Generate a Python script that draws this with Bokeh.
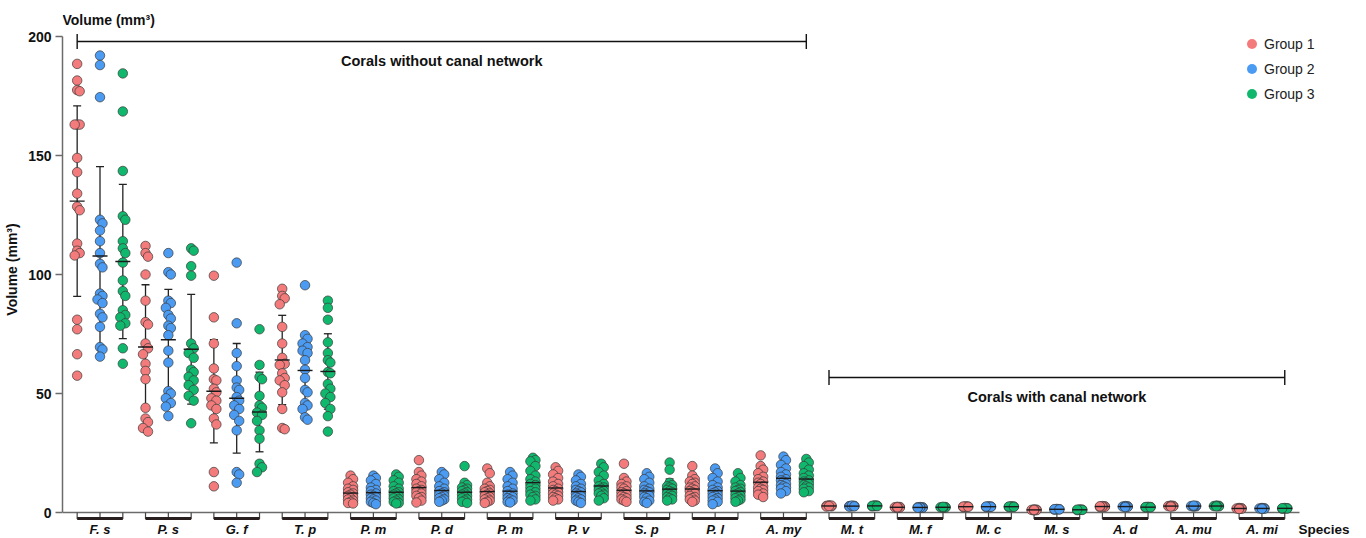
import numpy as np
from bokeh.plotting import figure
from bokeh.models import Range1d, FixedTicker, Legend, LegendItem
from bokeh.embed import file_html
from bokeh.resources import INLINE
from bokeh.core.properties import value

# ---------------- data ----------------
species = ["F. s", "P. s", "G. f", "T. p", "P. m", "P. d", "P. m", "P. v", "S. p",
           "P. l", "A. my", "M. t", "M. f", "M. c", "M. s", "A. d", "A. mu", "A. mi"]
groups = ["Group 1", "Group 2", "Group 3"]
colors = ["#F47B7B", "#4B9BF2", "#10B86D"]
y_ticks = [0, 50, 100, 150, 200]
region_names = ["Corals without canal network", "Corals with canal network"]
region_first = [0, 11]
region_last = [10, 17]

fs = [[188.5, 181.5, 177.5, 177, 163, 163, 163, 149, 143, 134, 128.5, 127, 113, 110, 109, 108, 81, 77, 66.5, 57.5],
      [192, 188, 174.5, 123, 121.5, 118.5, 114, 109, 104.5, 103, 92, 91, 89.5, 88, 83.5, 82, 78, 69.5, 68.5, 65.5],
      [184.5, 168.5, 143.5, 124.5, 123, 114, 111, 109, 105, 97.5, 93, 91, 85, 83, 82, 79.5, 78.5, 69, 62.5]]
ps = [[112, 109, 107.5, 100, 89, 80, 79, 71, 69, 66.5, 62.5, 59.5, 56, 44, 39.5, 38, 35.5, 34],
      [109, 101, 100, 89, 88, 86, 83, 81.5, 78.5, 77.5, 74.5, 68, 63, 51, 50, 48, 46, 44.5, 40.5],
      [111, 110, 103.5, 99.5, 71, 69, 67, 65, 60, 59, 57, 55.5, 53.5, 51.5, 49, 47, 37.5]]
gf = [[99.5, 82, 71, 60.5, 56, 55.5, 52, 50.5, 48, 47, 45, 43.5, 39.5, 37, 17, 11],
      [105, 79.5, 67, 61.5, 55.5, 52.5, 51.5, 48.5, 47, 45, 43.5, 41, 38.5, 34.5, 17, 16, 12.5],
      [77, 62, 57, 56, 49, 45, 44, 42, 41, 38.5, 34.5, 31, 20.5, 19, 17]]
tp = [[94, 91, 90, 87.5, 78, 71, 65, 62.5, 62, 58.5, 56.5, 55.5, 53.5, 50.5, 43.5, 35.5, 35],
      [95.5, 74.5, 73, 71, 69.5, 68, 67, 64, 60, 56.5, 51.5, 50.5, 46, 45, 43.5, 40, 39],
      [89, 86, 81, 71.5, 67, 64, 63, 59, 58.5, 54, 52, 50, 48.5, 46, 43.5, 40.5, 34]]
pm1 = [[15.5, 14, 12.5, 11, 10, 9.5, 8.5, 8, 7.5, 7, 6.5, 6, 5.5, 5, 4.5, 4, 3.8],
       [15.5, 14.5, 13.5, 12, 10.5, 9.5, 9, 8, 7.5, 7, 6.5, 6, 5.5, 5, 4.5, 4, 3.5],
       [16, 15, 13.5, 12.5, 11, 10, 9, 8.5, 8, 7.5, 7, 6.5, 6, 5.5, 5, 4.5, 4, 3.8]]
pd_ = [[22, 17, 15.5, 14, 13, 12, 11, 10, 9.5, 9, 8.5, 8, 7, 6.5, 6, 5, 4.2],
       [17, 16, 14, 12.5, 11, 10, 9, 8.5, 8, 7.5, 7, 6.5, 6, 5.5, 5, 4.5],
       [19.5, 12.5, 11.5, 10.5, 10, 9.5, 9, 8.5, 8, 7.5, 7, 6.5, 6, 5.5, 5, 4.5, 4]]
pm2 = [[18.5, 16.5, 12.5, 11, 10, 9.5, 9, 8.5, 8, 7.5, 7, 6.5, 6, 5.5, 5, 4.5, 4],
       [17, 15.5, 14, 12.5, 11, 10, 9, 8, 7.5, 7, 6.5, 6, 5.5, 5, 4.5, 4.2],
       [23, 22, 21.5, 19.5, 17.5, 15.5, 14, 13, 12, 11.5, 10.5, 10, 9, 8.5, 7.5, 7, 6.5, 5.5, 5]]
pv = [[19, 17.5, 16, 14.5, 13, 12, 11, 10, 9.5, 9, 8.5, 8, 7.5, 7, 6.5, 6, 5.5, 5],
      [16, 15, 13.5, 12, 11, 10, 9.5, 9, 8.5, 8, 7.5, 7, 6.5, 6, 5.5, 5, 4.5, 4],
      [20.5, 19, 17, 15.5, 13.5, 12, 11, 10.5, 10, 9.5, 9, 8.5, 8, 7.5, 7, 6, 5]]
sp = [[20.5, 14.5, 13, 12, 11, 10.5, 10, 9, 8.5, 8, 7.5, 7, 6.5, 6, 5.5, 5, 4.5],
      [16.5, 15, 14, 12.5, 11, 10, 9.5, 9, 8.5, 8, 7.5, 7, 6.5, 6, 5, 4.5, 4],
      [21, 18, 12.5, 11.5, 11, 10.5, 10, 9.5, 9, 8.5, 8, 7.5, 7, 6.5, 6, 5.5, 5]]
pl = [[19.5, 15.5, 14, 13, 12.5, 12, 11, 10.5, 10, 9.5, 9, 8.5, 8, 7, 6.5, 6, 5.5, 5, 4.5],
      [18.5, 16.5, 14.5, 13, 11.5, 10.5, 9.5, 9, 8.5, 8, 7.5, 7, 6.5, 6, 5.5, 5, 4.5, 3.5],
      [16.5, 14.5, 13, 11.5, 10.5, 10, 9.5, 9, 8.5, 8, 7.5, 7, 6.5, 6, 5.5, 5, 4.5]]
amy = [[24, 19.5, 18, 16.5, 15, 14, 13, 12.5, 12, 11, 10.5, 10, 9.5, 9, 8, 7.5, 6.5],
       [23.5, 22, 20, 18.5, 17, 16, 15, 14, 13.5, 13, 12, 11.5, 11, 10.5, 10, 9, 8],
       [22.5, 21, 19.5, 18, 16.5, 15.5, 14.5, 13.5, 13, 12.5, 12, 11.5, 11, 10.5, 10, 9, 8.5]]
mt = [[3.0, 2.8, 2.6, 2.9, 2.5, 2.7], [2.8, 2.6, 2.7, 2.5, 2.9, 2.6], [2.9, 2.7, 3.0, 2.6, 2.8, 2.7]]
mf = [[2.3, 2.1, 2.2, 2.0, 2.4, 2.2], [2.2, 2.0, 2.3, 2.1, 2.2, 2.0], [2.2, 2.3, 2.1, 2.0, 2.2, 2.4]]
mc = [[2.5, 2.4, 2.6, 2.3, 2.5, 2.4], [2.4, 2.5, 2.3, 2.6, 2.4, 2.5], [2.5, 2.6, 2.4, 2.3, 2.5, 2.4]]
ms = [[1.2, 1.0, 1.1, 1.3, 0.9, 1.1], [1.4, 1.3, 1.5, 1.2, 1.4, 1.3], [1.1, 1.2, 1.0, 1.3, 1.1, 1.2]]
ad = [[2.6, 2.4, 2.7, 2.5, 2.3, 2.6], [2.5, 2.6, 2.4, 2.7, 2.5, 2.3], [2.3, 2.2, 2.4, 2.1, 2.3, 2.2]]
amu = [[2.7, 2.8, 2.6, 2.9, 2.7, 2.5], [2.7, 2.6, 2.8, 2.5, 2.7, 2.9], [2.7, 2.8, 2.6, 2.9, 2.7, 2.6]]
ami = [[1.8, 1.7, 1.6, 1.9, 1.7, 1.5], [1.7, 1.8, 1.6, 1.9, 1.7, 1.6], [1.8, 1.7, 1.6, 1.9, 1.7, 1.8]]

volumes = [fs, ps, gf, tp, pm1, pd_, pm2, pv, sp, pl, amy, mt, mf, mc, ms, ad, amu, ami]

# ---------------- layout ----------------
W, H = 1366, 538
LEFT = 62
X0, X1 = -0.5486, 18.53
Y0, Y1 = -10.92, 215.13
PX_X = (W - LEFT) / (X1 - X0)
PX_Y = H / (Y1 - Y0)
GOFF = [-0.334, 0.0, 0.334]
FONT = value("Liberation Sans")
INK = "#111111"
AXIS_GREY = "#6b6b6b"


def swarm(vals):
    vals = np.asarray(vals, float)
    ys = vals * PX_Y
    offs = np.zeros(len(vals))
    placed = []
    for k in np.argsort(-vals, kind="stable"):
        best, bestd = 0.0, -1.0
        for c in (0.0, 2.5, -2.5):
            d = min((np.hypot(c - px, ys[k] - py) for px, py in placed), default=1e9)
            if d >= 7.0:
                best = c
                break
            if d > bestd:
                best, bestd = c, d
        offs[k] = best
        placed.append((best, ys[k]))
    return offs / PX_X


p = figure(width=W, height=H, x_range=Range1d(X0, X1), y_range=Range1d(Y0, Y1),
           output_backend="svg", toolbar_location=None, x_axis_location=None,
           min_border_left=LEFT, min_border_right=0, min_border_top=0, min_border_bottom=0)
p.outline_line_color = None
p.grid.visible = False

ax = p.yaxis[0]
ax.bounds = (0, 200)
ax.ticker = FixedTicker(ticks=y_ticks)
ax.minor_tick_line_color = None
ax.major_tick_in = 0
ax.major_tick_out = 7
ax.major_tick_line_color = AXIS_GREY
ax.major_tick_line_width = 1.5
ax.axis_line_color = AXIS_GREY
ax.axis_line_width = 1.5
ax.major_label_text_font = "Liberation Sans"
ax.major_label_text_font_size = "14px"
ax.major_label_text_font_style = "bold"
ax.major_label_text_color = INK
ax.major_label_standoff = 4
ax.axis_label = "Volume (mm³)"
ax.axis_label_text_font = "Liberation Sans"
ax.axis_label_text_font_size = "14px"
ax.axis_label_text_font_style = "bold"
ax.axis_label_text_color = INK
ax.axis_label_standoff = 5

n = len(species)

# x axis line at zero
p.segment(x0=[X0], y0=[0], x1=[n - 1 + 0.55], y1=[0], line_color=AXIS_GREY, line_width=1.5)

# brackets under each species
tick_depth = 6.5 / PX_Y
bar_y = -6 / PX_Y
tx, ty0, ty1 = [], [], []
for i in range(n):
    for g in range(3):
        tx.append(i + GOFF[g]); ty0.append(0); ty1.append(-tick_depth)
p.segment(x0=tx, y0=ty0, x1=tx, y1=ty1, line_color="#444444", line_width=1.2)
p.segment(x0=[i + GOFF[0] for i in range(n)], y0=[bar_y] * n,
          x1=[i + GOFF[2] for i in range(n)], y1=[bar_y] * n,
          line_color="#2a1f1f", line_width=3.0)

# species labels
lab_y = -16.5 / PX_Y
p.text(x=list(range(n)), y=[lab_y] * n, text=species, text_font=FONT,
       text_font_size="13px", text_font_style="bold italic", text_color=INK,
       text_align="center", text_baseline="alphabetic")
p.text(x=[17.535], y=[lab_y], text=["Species"], text_font=FONT,
       text_font_size="13.5px", text_font_style="bold", text_color=INK,
       text_align="left", text_baseline="alphabetic")
p.text(x=[X0], y=[207.1], text=["Volume (mm³)"], text_font=FONT,
       text_font_size="14px", text_font_style="bold", text_color=INK,
       text_align="left", text_baseline="middle")

# region brackets
region_line_y = [197.9, 56.7]
region_text_y = [189.8, 48.6]
half_tick = 7.5 / PX_Y
for name, a, b, ly, tyy in zip(region_names, region_first, region_last, region_line_y, region_text_y):
    xa, xb = a + GOFF[0], b + GOFF[2]
    p.segment(x0=[xa, xa, xb], y0=[ly, ly - half_tick, ly - half_tick],
              x1=[xb, xa, xb], y1=[ly, ly + half_tick, ly + half_tick],
              line_color=INK, line_width=1.4)
    p.text(x=[(xa + xb) / 2], y=[tyy], text=[name], text_font=FONT,
           text_font_size="14.5px", text_font_style="bold", text_color=INK,
           text_align="center", text_baseline="middle")

# stats
cap_half = 4 / PX_X
mean_half = 7.5 / PX_X
wx, wy0, wy1 = [], [], []
cx0, cx1, cy = [], [], []
mx0, mx1, my = [], [], []
for i, sp_vals in enumerate(volumes):
    for g in range(3):
        v = np.asarray(sp_vals[g], float)
        m = v.mean()
        s = v.std(ddof=1)
        x = i + GOFF[g]
        wx.append(x); wy0.append(m - s); wy1.append(m + s)
        for yy in (m - s, m + s):
            cx0.append(x - cap_half); cx1.append(x + cap_half); cy.append(yy)
        mx0.append(x - mean_half); mx1.append(x + mean_half); my.append(m)

p.segment(x0=wx, y0=wy0, x1=wx, y1=wy1, line_color="#222222", line_width=1.3)
p.segment(x0=cx0, y0=cy, x1=cx1, y1=cy, line_color="#222222", line_width=1.3)

# points
for g in range(3):
    xs, ys = [], []
    for i, sp_vals in enumerate(volumes):
        offs = swarm(sp_vals[g])
        xs.extend(list(i + GOFF[g] + offs))
        ys.extend(sp_vals[g])
    p.scatter(x=xs, y=ys, size=9.5, marker="circle", fill_color=colors[g],
              line_color="#3a3a3a", line_width=0.7)

p.segment(x0=mx0, y0=my, x1=mx1, y1=my, line_color="#1a1a1a", line_width=1.4)

# legend
items = []
for g in range(3):
    r = p.scatter(x=[float("nan")], y=[float("nan")], size=10, marker="circle",
                  fill_color=colors[g], line_color=None)
    items.append(LegendItem(label=groups[g], renderers=[r]))
legend = Legend(items=items, location=(1177, 432), padding=0, margin=0, spacing=0,
                glyph_width=25, glyph_height=25, label_height=25, label_standoff=0,
                border_line_alpha=0, background_fill_alpha=0,
                label_text_font="Liberation Sans", label_text_font_size="14px",
                label_text_color="#222222")
p.add_layout(legend)

open("out.html", "w").write(file_html(p, INLINE))
